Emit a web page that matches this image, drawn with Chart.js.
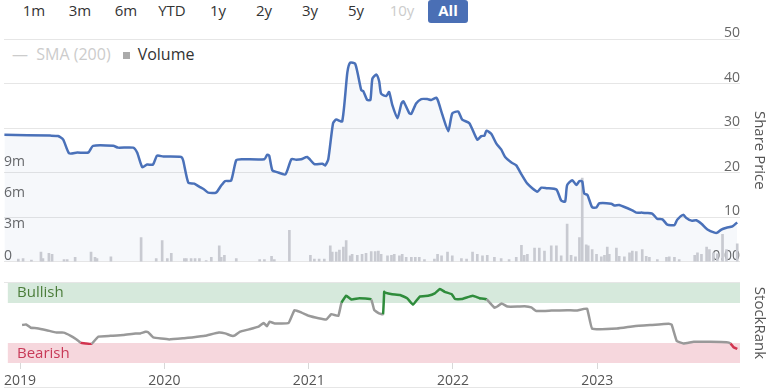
<!DOCTYPE html>
<html>
<head>
<meta charset="utf-8">
<script src="https://cdn.jsdelivr.net/npm/chart.js@4.4.0/dist/chart.umd.min.js"></script>
<style>
  body { margin: 0; background: #fff; font-family: 'Open Sans', sans-serif; }
  #wrap { position: relative; width: 768px; height: 389px; overflow: hidden; }
  .ranges { position: absolute; left: 11px; top: 0; display: flex; }
  .ranges span { width: 46px; height: 23px; line-height: 21px; text-align: center; font-size: 15px; color: #333; }
  .ranges span.off { color: #ccc; }
  .ranges span.on { background: #4a6fb5; color: #fff; font-weight: bold; border-radius: 3px; width: 40px; margin-left: 3px; }
  .legend { position: absolute; left: 12px; top: 43px; font-size: 16px; color: #333; white-space: nowrap; }
  .legend .sma { color: #ccc; }
  .legend .sq { display: inline-block; width: 7px; height: 7px; background: #aaa; margin: 0 8px 1px 12px; }
  canvas { position: absolute; left: 0; }
  .rule { position: absolute; left: 4px; width: 736px; height: 1px; background: #e6e6e6; }
</style>
</head>
<body>
<div id="wrap">
  <div class="ranges">
    <span>1m</span><span>3m</span><span>6m</span><span>YTD</span><span>1y</span><span>2y</span><span>3y</span><span>5y</span><span class="off">10y</span><span class="on">All</span>
  </div>
  <div class="legend"><span class="sma">— &nbsp;SMA (200)</span><span class="sq"></span>Volume</div>
  <canvas id="priceChart" width="768" height="270" style="top:0"></canvas>
  <canvas id="rankChart" width="768" height="119" style="top:270px"></canvas>
  <div class="rule" style="top:282px"></div>
  <div class="rule" style="top:387px"></div>
</div>
<script>
// Share price
const priceDates = ['2018-12-02','2019-03-27','2019-04-16','2019-04-29','2019-05-14','2019-06-03','2019-07-01','2019-07-13',
  '2019-09-02','2019-09-14','2019-10-22','2019-11-01','2019-11-14','2019-11-26','2019-12-11','2019-12-21','2020-01-06',
  '2020-02-20','2020-02-25','2020-03-09','2020-03-24','2020-04-06','2020-04-18','2020-04-28','2020-05-18','2020-05-31',
  '2020-06-10','2020-06-25','2020-07-08','2020-07-23','2020-09-17','2020-09-24','2020-09-29','2020-10-07','2020-10-19',
  '2020-11-09','2020-11-24','2020-12-06','2020-12-19','2021-01-03','2021-01-21','2021-02-10','2021-02-17','2021-02-25',
  '2021-03-09','2021-03-17','2021-04-01','2021-04-14','2021-04-21','2021-05-04','2021-05-19','2021-05-24','2021-06-03',
  '2021-06-11','2021-06-16','2021-06-26','2021-07-03','2021-07-08','2021-07-21','2021-07-28','2021-08-05','2021-08-18',
  '2021-08-28','2021-09-02','2021-09-17','2021-09-22','2021-10-04','2021-10-17','2021-11-01','2021-11-11','2021-11-24',
  '2021-11-29','2021-12-09','2021-12-24','2022-01-03','2022-01-18','2022-01-28','2022-02-15','2022-03-07','2022-03-17',
  '2022-03-25','2022-03-30','2022-04-11','2022-04-24','2022-05-06','2022-05-16','2022-05-31','2022-06-13','2022-06-26',
  '2022-07-11','2022-08-05','2022-08-15','2022-08-28','2022-09-22','2022-10-04','2022-10-14','2022-10-19','2022-11-01',
  '2022-11-11','2022-11-19','2022-11-26','2022-12-01','2022-12-09','2022-12-21','2023-01-01','2023-01-08','2023-02-07',
  '2023-02-15','2023-02-27','2023-04-01','2023-04-11','2023-04-26','2023-05-06','2023-05-21','2023-06-03','2023-06-16',
  '2023-06-28','2023-07-16','2023-07-23','2023-08-07','2023-08-15','2023-08-28','2023-09-09','2023-09-22','2023-10-07',
  '2023-10-25','2023-11-01','2023-11-11','2023-11-24','2023-12-09','2023-12-21'];
const priceValues = [28.5,28.3,28.2,27.4,24.3,24.5,24.5,26.0,
  26.0,25.6,25.6,24.5,21.2,21.8,21.8,23.8,23.6,
  23.5,22.7,17.7,17.5,16.8,16.2,15.5,15.5,17.1,
  18.1,18.2,22.8,23.0,23.0,24.0,23.8,20.5,20.1,
  19.6,23.0,22.9,23.0,23.5,21.9,22.0,21.6,23.0,
  31.1,31.9,31.5,42.5,44.7,44.4,38.5,38.3,36.3,
  36.3,41.1,42.0,40.5,37.7,37.2,38.1,35.2,32.2,
  35.5,36.0,33.3,33.2,35.5,36.5,36.5,36.3,36.8,
  35.9,33.0,29.3,33.3,33.7,31.9,31.1,27.4,28.2,
  28.3,29.4,28.7,26.5,25.2,23.5,22.3,21.6,19.6,
  17.5,15.7,16.6,16.5,16.2,13.7,13.5,17.2,18.3,
  17.2,18.1,18.0,15.3,15.0,12.2,12.2,13.1,13.0,
  12.6,12.7,11.5,11.0,11.0,10.9,10.8,9.6,9.5,
  8.3,8.2,9.4,10.5,9.8,9.2,9.3,8.5,7.2,
  6.5,6.5,7.2,7.6,7.9,8.8];

// Volume (millions)
const volDates = ['2019-01-06','2019-01-18','2019-02-08','2019-03-04','2019-03-09','2019-03-24','2019-04-01','2019-05-01',
  '2019-05-09','2019-05-29','2019-07-08','2019-07-18','2019-07-23','2019-08-27','2019-11-11','2019-12-19','2020-01-03',
  '2020-01-16','2020-01-26','2020-02-28','2020-03-04','2020-03-16','2020-03-26','2020-04-06','2020-04-23','2020-05-06',
  '2020-05-26','2020-05-31','2020-06-08','2020-07-08','2020-09-05','2020-09-17','2020-10-05','2020-10-12','2020-11-19',
  '2021-01-11','2021-01-21','2021-02-02','2021-02-15','2021-03-02','2021-03-07','2021-03-17','2021-03-25','2021-04-04',
  '2021-04-11','2021-04-21','2021-04-26','2021-05-09','2021-05-21','2021-05-31','2021-06-13','2021-06-23','2021-07-01',
  '2021-07-08','2021-07-24','2021-08-03','2021-08-10','2021-08-23','2021-08-30','2021-09-09','2021-09-22','2021-10-02',
  '2021-10-12','2021-10-25','2021-11-19','2021-11-27','2021-12-07','2021-12-22','2022-01-03','2022-01-26','2022-02-08',
  '2022-02-23','2022-03-07','2022-03-20','2022-04-01','2022-04-19','2022-05-06','2022-05-26','2022-06-13','2022-06-26',
  '2022-07-03','2022-07-11','2022-07-29','2022-08-10','2022-08-23','2022-09-09','2022-09-22','2022-10-04','2022-10-19',
  '2022-10-29','2022-11-09','2022-11-19','2022-11-26','2022-12-06','2022-12-11','2022-12-21','2023-01-01','2023-01-13',
  '2023-01-21','2023-01-28','2023-02-02','2023-02-20','2023-02-27','2023-03-12','2023-03-25','2023-04-01','2023-04-11',
  '2023-04-26','2023-05-06','2023-05-14','2023-06-03','2023-06-26','2023-07-03','2023-07-16','2023-07-28','2023-09-05',
  '2023-09-12','2023-09-22','2023-10-05','2023-10-12','2023-10-22','2023-11-01','2023-11-14','2023-11-24','2023-12-21'];
const volValues = [0.25,0.3,0.15,0.9,0.3,0.8,0.7,0.2,
  0.2,0.4,0.9,0.4,0.3,0.45,2.3,0.3,2.0,
  0.3,0.8,0.3,0.3,0.3,0.3,0.3,0.1,0.4,
  1.5,0.4,0.6,0.3,0.2,0.2,0.5,0.2,3.0,
  0.6,0.25,0.25,0.25,1.5,0.9,0.9,1.1,1.4,
  2.0,0.55,0.7,0.6,0.7,0.8,0.95,0.95,1.0,
  0.7,0.55,0.6,0.7,0.55,0.7,0.4,0.4,0.4,
  0.4,0.2,0.25,0.7,0.55,0.9,0.55,0.3,0.25,
  0.9,0.7,0.55,0.6,0.4,0.3,0.2,0.4,1.55,
  0.6,0.7,1.3,1.3,1.0,1.5,1.5,0.55,3.6,
  0.6,0.45,2.3,8.0,1.6,1.5,1.15,0.7,0.45,
  0.6,1.4,0.7,1.3,0.5,0.45,0.85,1.0,0.95,
  1.15,0.5,0.4,0.2,0.4,0.45,0.4,0.2,0.6,
  0.85,0.7,1.4,1.15,0.85,0.75,2.6,1.15,1.7];

// StockRank
const rankDates = ['2019-01-06','2019-01-16','2019-01-28','2019-02-12','2019-03-09','2019-04-03','2019-04-21','2019-05-09',
  '2019-05-22','2019-06-03','2019-06-16','2019-07-01','2019-07-18','2019-08-18','2019-09-19','2019-10-20','2019-11-01',
  '2019-11-14','2019-11-21','2019-12-04','2020-01-13','2020-02-20','2020-03-11','2020-04-13','2020-05-18','2020-06-03',
  '2020-06-20','2020-06-28','2020-07-10','2020-08-02','2020-08-27','2020-09-09','2020-09-17','2020-09-24','2020-10-07',
  '2020-11-11','2020-11-26','2020-12-14','2021-01-01','2021-01-26','2021-02-15','2021-02-27','2021-03-17','2021-03-25',
  '2021-04-06','2021-04-19','2021-05-09','2021-06-08','2021-06-16','2021-06-28','2021-07-08','2021-07-11','2021-07-13',
  '2021-07-31','2021-08-20','2021-09-07','2021-09-22','2021-10-09','2021-10-30','2021-11-16','2021-11-29','2021-12-11',
  '2021-12-29','2022-01-06','2022-01-23','2022-02-20','2022-03-09','2022-03-27','2022-04-16','2022-04-24','2022-05-04',
  '2022-05-19','2022-06-13','2022-07-01','2022-07-18','2022-07-31','2022-09-07','2022-10-17','2022-11-09','2022-12-06',
  '2022-12-19','2023-02-20','2023-04-04','2023-05-16','2023-07-01','2023-07-08','2023-07-21','2023-08-07','2023-09-02',
  '2023-10-14','2023-11-24','2023-12-04','2023-12-11','2023-12-21'];
const rankValues = [47.5,48.3,44,43.5,41,38,38,34,
  30,25.5,24.5,24,33,34,35,37,37,
  39,38.5,32,29.5,31,32,34,38,37,
  34,34.5,39,42,45.5,50,46,51.5,49.5,
  50,66,63,59,56,54.5,61,59,75.4,
  84,79.5,81,79.5,66,62,61,89,88,
  86,85,81,73,83,84,87,92.5,89,
  86,80,80,84,81,79.5,69,71,74.5,
  70.5,70.5,71,69.5,65,65.5,66,65.5,68,
  43,43,46,47.5,49,48,27.5,24.5,26.5,
  26.5,26,24.5,20,17.5];

const priceTicks = [0, 10, 20, 30, 40, 50];
const volTicks = [0, 3, 6, 9];
const years = [2019, 2020, 2021, 2022, 2023];

function yearFrac(s) {
    const d = Date.parse(s + 'T00:00:00Z');
    const y = new Date(d).getUTCFullYear();
    const a = Date.UTC(y, 0, 1), b = Date.UTC(y + 1, 0, 1);
    return y + (d - a) / (b - a);
}

const xMin = yearFrac('2018-12-01');
const xMax = yearFrac('2023-12-28');

Chart.defaults.font.family = "'Open Sans', sans-serif";
Chart.defaults.animation = false;

new Chart(document.getElementById('priceChart'), {
    data: {
        datasets: [{
            type: 'line',
            data: priceDates.map((d, i) => ({ x: yearFrac(d), y: priceValues[i] })),
            yAxisID: 'price',
            borderColor: '#4a71b9',
            borderWidth: 2.5,
            pointRadius: 0,
            tension: 0.2,
            fill: 'origin',
            backgroundColor: 'rgba(74, 113, 185, 0.05)',
            order: 0
        }, {
            type: 'bar',
            data: volDates.map((d, i) => ({ x: yearFrac(d), y: volValues[i] })),
            yAxisID: 'vol',
            backgroundColor: '#c8cad1',
            barThickness: 2,
            grouped: false,
            order: 1
        }]
    },
    options: {
        responsive: false,
        layout: { padding: { top: 39, left: 4, right: 0, bottom: 4 } },
        plugins: {
            legend: { display: false },
            tooltip: { enabled: false },
            filler: { drawTime: 'beforeDatasetsDraw' }
        },
        scales: {
            x: { type: 'linear', min: xMin, max: xMax, offset: false, display: false },
            price: {
                position: 'right', min: 0, max: 50,
                afterBuildTicks: s => { s.ticks = priceTicks.map(v => ({ value: v })); },
                ticks: { mirror: true, padding: 0, labelOffset: -6, color: '#666', font: { size: 14 },
                    callback: v => v === 0 ? '0.00' : String(v) },
                grid: { color: '#e6e6e6', drawTicks: false },
                border: { display: false },
                title: { display: true, text: 'Share Price', color: '#555', font: { size: 15 }, padding: 0 },
                afterFit: s => { s.width = 28; }
            },
            vol: {
                position: 'left', min: 0, max: 21.3,
                afterBuildTicks: s => { s.ticks = volTicks.map(v => ({ value: v })); },
                ticks: { mirror: true, padding: 0, labelOffset: -6, color: '#666', font: { size: 14 },
                    callback: v => v === 0 ? '0' : v + 'm' },
                grid: { display: false },
                border: { display: false },
                afterFit: s => { s.width = 0; }
            }
        }
    }
});

// Bullish / Bearish bands
const bands = {
    id: 'bands',
    beforeDatasetsDraw(chart) {
        const { ctx, chartArea } = chart;
        const y = chart.scales.rank;
        ctx.save();
        ctx.fillStyle = '#d6e9dc';
        ctx.fillRect(chartArea.left, y.getPixelForValue(100), chartArea.width, y.getPixelForValue(75) - y.getPixelForValue(100));
        ctx.fillStyle = '#f6d7dd';
        ctx.fillRect(chartArea.left, y.getPixelForValue(25), chartArea.width, y.getPixelForValue(0) - y.getPixelForValue(25));
        ctx.font = "15px 'Open Sans', sans-serif";
        ctx.textBaseline = 'middle';
        ctx.fillStyle = '#4b7d3a';
        ctx.fillText('Bullish', 17, y.getPixelForValue(87.5));
        ctx.fillStyle = '#c83a58';
        ctx.fillText('Bearish', 17, y.getPixelForValue(11));
        ctx.restore();
    }
};

function rankColor(ctx) {
    const m = (ctx.p0.parsed.y + ctx.p1.parsed.y) / 2;
    if (m >= 75) return '#2f8c3c';
    if (m <= 25) return '#d2344f';
    return '#999999';
}

new Chart(document.getElementById('rankChart'), {
    type: 'line',
    data: {
        datasets: [{
            data: rankDates.map((d, i) => ({ x: yearFrac(d), y: rankValues[i] })),
            yAxisID: 'rank',
            borderColor: '#999999',
            borderWidth: 2.5,
            pointRadius: 0,
            tension: 0.1,
            segment: { borderColor: rankColor }
        }]
    },
    options: {
        responsive: false,
        layout: { padding: { top: 13, left: 4, right: 0, bottom: 0 } },
        plugins: { legend: { display: false }, tooltip: { enabled: false } },
        scales: {
            x: {
                type: 'linear', min: xMin, max: xMax,
                afterBuildTicks: s => { s.ticks = years.map(v => ({ value: v })); },
                ticks: { color: '#555', font: { size: 14 }, padding: 4, maxRotation: 0, autoSkip: false,
                    callback: v => String(v) },
                grid: { drawOnChartArea: false, color: '#d8d8d8', tickLength: 6 },
                border: { display: false },
                afterFit: s => { s.height = 26; }
            },
            rank: {
                position: 'right', min: 0, max: 100,
                afterBuildTicks: s => { s.ticks = [{ value: 0 }]; },
                ticks: { mirror: true, padding: 0, labelOffset: -6, color: '#666', font: { size: 14 } },
                grid: { display: false },
                border: { display: false },
                title: { display: true, text: 'StockRank', color: '#555', font: { size: 15 }, padding: 0 },
                afterFit: s => { s.width = 28; }
            }
        }
    },
    plugins: [bands]
});
</script>
</body>
</html>
